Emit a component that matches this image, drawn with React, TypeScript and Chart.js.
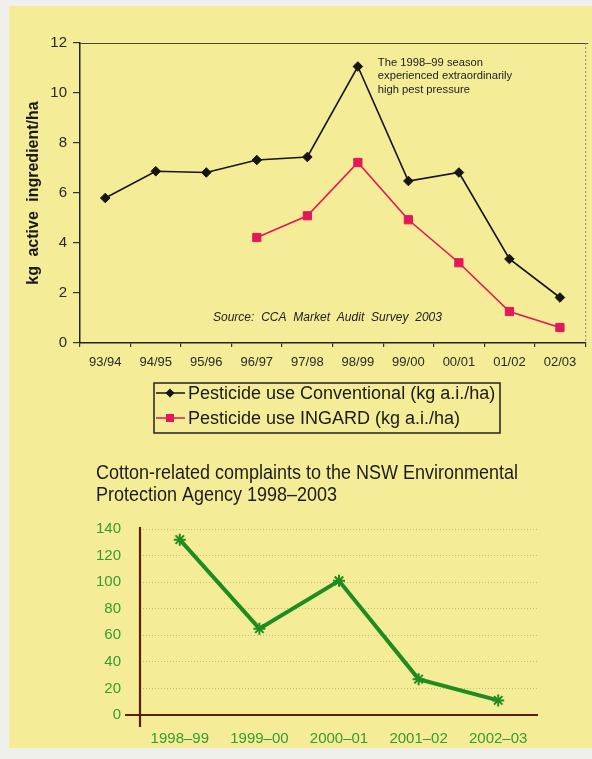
import React, { useEffect, useRef } from 'react';
import { Chart, registerables } from 'chart.js';

Chart.register(...registerables);

// ---------- data ----------
const seasons = ['93/94', '94/95', '95/96', '96/97', '97/98', '98/99', '99/00', '00/01', '01/02', '02/03'];
const conventional = [5.8, 6.87, 6.82, 7.32, 7.44, 11.06, 6.48, 6.82, 3.36, 1.82];
const ingard = [null, null, null, 4.22, 5.09, 7.22, 4.93, 3.21, 1.26, 0.62];
const conventionalLabel = 'Pesticide use Conventional (kg a.i./ha)';
const ingardLabel = 'Pesticide use INGARD (kg a.i./ha)';
const pestAxisTitle = 'kg active ingredient/ha';
const annotationLines = ['The 1998–99 season', 'experienced extraordinarily', 'high pest pressure'];
const sourceText = 'Source: CCA Market Audit Survey 2003';

const complaintYears = ['1998–99', '1999–00', '2000–01', '2001–02', '2002–03'];
const complaints = [132, 65, 101, 27, 11];
const complaintTitle = ['Cotton-related complaints to the NSW Environmental', 'Protection Agency 1998–2003'];

// ---------- styles ----------
const SANS = "'Liberation Sans', Arial, sans-serif";
const BLACK = '#151515';
const PINK = '#e3175a';
const GREEN = '#1f8c1f';
const GREEN_TXT = '#3a9a30';
const BROWN = '#5a1d12';

const topDecor = {
  id: 'topDecor',
  beforeDraw(chart: any) {
    // slightly wider word spacing for the axis title, as in the printed original
    (chart.ctx as any).wordSpacing = '5px';
  },
  afterDraw(chart: any) {
    const { ctx, chartArea } = chart;
    const { left, right, top, bottom } = chartArea;
    (ctx as any).wordSpacing = '0px';
    ctx.save();
    // top frame line
    ctx.strokeStyle = '#4a4a40';
    ctx.lineWidth = 1;
    ctx.beginPath();
    ctx.moveTo(left, top + 0.5);
    ctx.lineTo(right + 3, top + 0.5);
    ctx.stroke();
    // right frame line
    ctx.strokeStyle = '#8a8a78';
    ctx.setLineDash([2, 2]);
    ctx.beginPath();
    ctx.moveTo(right + 0.5, top);
    ctx.lineTo(right + 0.5, bottom);
    ctx.stroke();
    ctx.setLineDash([]);

    const xs = chart.scales.x;
    const ys = chart.scales.y;
    // annotation
    ctx.fillStyle = '#222';
    ctx.font = `11.2px ${SANS}`;
    ctx.textAlign = 'left';
    ctx.textBaseline = 'middle';
    const ax = xs.getPixelForValue(5) + 20;
    const ay = ys.getPixelForValue(conventional[5]) - 4;
    annotationLines.forEach((l, i) => ctx.fillText(l, ax, ay + i * 13.5));

    // source
    ctx.font = `italic 12px ${SANS}`;
    (ctx as any).wordSpacing = '3.5px';
    ctx.fillText(sourceText, left + 133, bottom - 25);
    (ctx as any).wordSpacing = '0px';

    // legend box
    const bx = left + 74;
    const by = 383;
    const bw = 346;
    const bh = 50;
    ctx.strokeStyle = '#222';
    ctx.lineWidth = 1.5;
    ctx.strokeRect(bx, by, bw, bh);
    const rows = [
      { label: conventionalLabel, color: BLACK, style: 'rectRot' },
      { label: ingardLabel, color: PINK, style: 'rect' },
    ];
    rows.forEach((row, i) => {
      const cy = by + 10 + i * 25;
      ctx.strokeStyle = row.color;
      ctx.lineWidth = 1.5;
      ctx.beginPath();
      ctx.moveTo(bx + 2, cy);
      ctx.lineTo(bx + 31, cy);
      ctx.stroke();
      ctx.fillStyle = row.color;
      ctx.beginPath();
      if (row.style === 'rect') {
        ctx.rect(bx + 16 - 4, cy - 4, 8, 8);
      } else {
        ctx.moveTo(bx + 16, cy - 4.5);
        ctx.lineTo(bx + 20.5, cy);
        ctx.lineTo(bx + 16, cy + 4.5);
        ctx.lineTo(bx + 11.5, cy);
        ctx.closePath();
      }
      ctx.fill();
      ctx.fillStyle = '#1a1a1a';
      ctx.font = `18px ${SANS}`;
      ctx.textBaseline = 'middle';
      ctx.fillText(row.label, bx + 34, cy + 1);
    });
    ctx.restore();
  },
};

const bottomDecor = {
  id: 'bottomDecor',
  beforeDatasetsDraw(chart: any) {
    const { ctx, chartArea } = chart;
    const { left, right, top, bottom } = chartArea;
    ctx.save();
    ctx.strokeStyle = BROWN;
    ctx.lineWidth = 2.2;
    ctx.beginPath();
    ctx.moveTo(left - 15, bottom);
    ctx.lineTo(right, bottom);
    ctx.moveTo(left, top - 2);
    ctx.lineTo(left, bottom + 12);
    ctx.stroke();
    ctx.restore();
  },
  afterDraw(chart: any) {
    // condensed two-line title (the printed face is a narrow sans)
    const { ctx } = chart;
    ctx.save();
    ctx.font = `20.5px ${SANS}`;
    ctx.fillStyle = '#1c1c1c';
    ctx.textAlign = 'left';
    ctx.textBaseline = 'middle';
    const w = ctx.measureText(complaintTitle[0]).width;
    const s = 422 / w;
    ctx.scale(s, 1);
    complaintTitle.forEach((line, i) => ctx.fillText(line, 96 / s, 33 + i * 22));
    ctx.restore();
  },
};

export default function App() {
  const topRef = useRef<HTMLCanvasElement>(null);
  const botRef = useRef<HTMLCanvasElement>(null);

  useEffect(() => {
    const c1 = new Chart(topRef.current as HTMLCanvasElement, {
      type: 'line',
      data: {
        labels: seasons,
        datasets: [
          {
            label: conventionalLabel,
            data: conventional,
            borderColor: BLACK,
            backgroundColor: BLACK,
            borderWidth: 1.6,
            pointStyle: 'rectRot',
            pointRadius: 4.8,
            pointBorderWidth: 1,
            tension: 0,
          },
          {
            label: ingardLabel,
            data: ingard as any,
            borderColor: PINK,
            backgroundColor: PINK,
            borderWidth: 1.6,
            pointStyle: 'rect',
            pointRadius: 5.8,
            pointBorderWidth: 1,
            tension: 0,
            spanGaps: false,
          },
        ],
      },
      options: {
        animation: false,
        responsive: false,
        layout: { padding: { left: 0, right: 5, top: 43, bottom: 0 } },
        plugins: {
          legend: { display: false },
          title: { display: false },
          tooltip: { enabled: false },
        },
        scales: {
          x: {
            type: 'category',
            offset: true,
            grid: { offset: true, drawOnChartArea: false, drawTicks: true, tickLength: 4, color: '#333', lineWidth: 1.2 },
            border: { display: true, color: '#222', width: 1.5 },
            ticks: { color: '#2a2a2a', font: { family: SANS, size: 13 }, padding: 8, maxRotation: 0, autoSkip: false },
            afterFit: (s: any) => { s.height = 97; },
          },
          y: {
            min: 0,
            max: 12,
            ticks: { stepSize: 2, color: '#2a2a2a', font: { family: SANS, size: 15 }, padding: 6 },
            grid: { drawOnChartArea: false, drawTicks: true, tickLength: 7, color: '#333', lineWidth: 1.2 },
            border: { display: true, color: '#222', width: 1.5 },
            title: {
              display: true,
              text: pestAxisTitle,
              color: '#1a1a1a',
              font: { family: SANS, size: 16, weight: 'bold', lineHeight: 1.2 },
              padding: { top: 24, bottom: 0 },
            },
            afterFit: (s: any) => { s.width = 80; },
          },
        },
      },
      plugins: [topDecor],
    } as any);

    const c2 = new Chart(botRef.current as HTMLCanvasElement, {
      type: 'line',
      data: {
        labels: complaintYears,
        datasets: [
          {
            label: 'Complaints',
            data: complaints,
            borderColor: GREEN,
            backgroundColor: GREEN,
            borderWidth: 4,
            pointStyle: 'star',
            pointRadius: 6,
            pointBorderWidth: 2,
            pointBorderColor: GREEN,
            tension: 0,
          },
        ],
      },
      options: {
        animation: false,
        responsive: false,
        layout: { padding: { left: 96, right: 54, top: 89, bottom: 0 } },
        plugins: {
          legend: { display: false },
          tooltip: { enabled: false },
          title: { display: false },
        },
        scales: {
          x: {
            offset: true,
            grid: { display: false },
            border: { display: false },
            ticks: { color: GREEN_TXT, font: { family: SANS, size: 15 }, padding: 7, maxRotation: 0, autoSkip: false },
            afterFit: (s: any) => { s.height = 44; },
          },
          y: {
            min: 0,
            max: 140,
            ticks: { stepSize: 20, color: GREEN_TXT, font: { family: SANS, size: 15 }, padding: 19 },
            grid: { drawTicks: false, color: 'rgba(140,150,110,0.55)', lineWidth: 1 },
            border: { display: false, dash: [1, 2] },
            afterFit: (s: any) => { s.width = 44; },
          },
        },
      },
      plugins: [bottomDecor],
    } as any);

    return () => {
      c1.destroy();
      c2.destroy();
    };
  }, []);

  return (
    <div style={{ position: 'absolute', left: 0, top: 0, width: 592, height: 759, background: '#efefec', overflow: 'hidden' }}>
      <div style={{ position: 'absolute', left: 9, top: 6, width: 583, height: 742, background: '#f4ec96' }} />
      <canvas ref={topRef} width={592} height={440} style={{ position: 'absolute', left: 0, top: 0, width: 592, height: 440 }} />
      <canvas ref={botRef} width={592} height={319} style={{ position: 'absolute', left: 0, top: 440, width: 592, height: 319 }} />
    </div>
  );
}
